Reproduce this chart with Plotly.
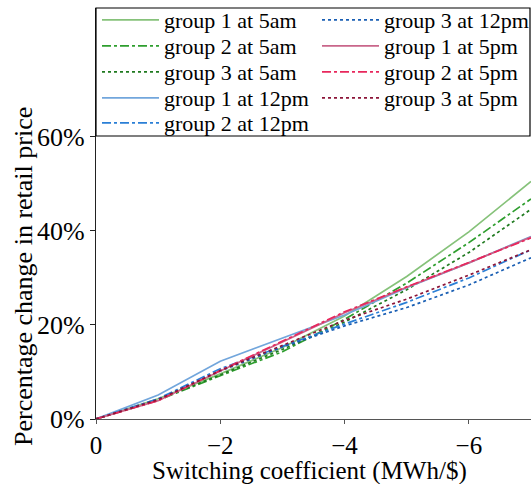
import plotly.graph_objects as go

x_vals = [0, -1, -2, -3, -4, -5, -6, -7]

g1_5am = [0, 4.3, 9.6, 15.2, 21.9, 30.3, 39.8, 50.5]
g2_5am = [0, 4.0, 9.2, 14.3, 21.2, 28.9, 37.5, 46.8]
g3_5am = [0, 4.1, 9.4, 14.8, 20.6, 27.5, 35.4, 44.6]
g1_12pm = [0, 5.1, 12.3, 17.2, 22.1, 27.9, 33.2, 38.8]
g2_12pm = [0, 4.3, 10.7, 15.5, 20.2, 24.8, 30.0, 36.0]
g3_12pm = [0, 4.2, 10.2, 15.3, 19.8, 23.7, 28.5, 34.3]
g1_5pm = [0, 3.9, 10.2, 16.4, 22.6, 28.0, 33.2, 38.7]
g2_5pm = [0, 3.9, 10.3, 16.6, 22.8, 28.1, 33.3, 38.5]
g3_5pm = [0, 4.1, 10.3, 15.7, 21.0, 25.5, 30.6, 36.0]

names = ["group 1 at 5am", "group 2 at 5am", "group 3 at 5am",
         "group 1 at 12pm", "group 2 at 12pm", "group 3 at 12pm",
         "group 1 at 5pm", "group 2 at 5pm", "group 3 at 5pm"]
values = [g1_5am, g2_5am, g3_5am, g1_12pm, g2_12pm, g3_12pm, g1_5pm, g2_5pm, g3_5pm]
colors = ["#86c27a", "#2e9e2e", "#1f7a1f", "#72a6dc", "#2a7fd6", "#1a5fb4",
          "#c9668a", "#e8275c", "#8c1538"]
dashes = ["solid", "dashdot", "dot"] * 3

x_ticks = [0, -2, -4, -6]
x_ticktext = ["0", "\u22122", "\u22124", "\u22126"]
y_ticks = [0, 20, 40, 60]
y_ticktext = ["0%", "20%", "40%", "60%"]
x_title = "Switching coefficient (MWh/$)"
y_title = "Percentage change in retail price"

FONT = "Liberation Serif"
W, H = 531, 484
ML, MR, MT, MB = 96, 0, 8, 65
PW, PH = W - ML - MR, H - MT - MB

fig = go.Figure()
# legend layout: column-major, 5 rows in first column, 4 in second
row_px = [20, 46, 72, 98, 123]
col_px = [97, 317]
legend_defs = {}
for i, (name, vals, color, dash) in enumerate(zip(names, values, colors, dashes)):
    col, row = (0, i) if i < 5 else (1, i - 5)
    key = "legend" if i == 0 else f"legend{i + 1}"
    fig.add_trace(go.Scatter(
        x=x_vals, y=vals, mode="lines", name=name,
        line=dict(color=color, dash=dash, width=1.7),
        legend=key,
    ))
    legend_defs[key] = dict(
        x=(col_px[col] - ML) / PW, y=(H - MB - row_px[row]) / PH,
        xanchor="left", yanchor="middle",
        bgcolor="rgba(255,255,255,0)", borderwidth=0,
        font=dict(size=22, family=FONT, color="black"),
        itemwidth=57,
    )

fig.update_layout(
    width=W, height=H,
    margin=dict(l=ML, r=MR, t=MT, b=MB, autoexpand=False),
    paper_bgcolor="white", plot_bgcolor="white",
    font=dict(family=FONT, color="black", size=26),
    showlegend=True,
    shapes=[dict(type="rect", xref="paper", yref="paper",
                 x0=0.0, x1=(530 - ML) / PW, y0=(H - MB - 136) / PH, y1=1.0,
                 line=dict(color="black", width=1.2), fillcolor="rgba(0,0,0,0)")],
    annotations=[
        dict(text=y_title, xref="paper", yref="paper",
             x=(23 - ML) / PW, y=(H - MB - 277) / PH,
             xanchor="center", yanchor="middle", textangle=-90,
             showarrow=False, font=dict(size=26, family=FONT, color="black")),
        dict(text=x_title, xref="paper", yref="paper",
             x=(309 - ML) / PW, y=(H - MB - 471) / PH,
             xanchor="center", yanchor="middle",
             showarrow=False, font=dict(size=25, family=FONT, color="black")),
    ],
    **legend_defs,
)
fig.update_xaxes(
    range=[0, -7], tickvals=x_ticks, ticktext=x_ticktext, showgrid=False, zeroline=False,
    showline=True, linecolor="#555", linewidth=1.2,
    ticks="outside", ticklen=4, tickcolor="#555",
    tickfont=dict(size=25, family=FONT),
    automargin=False,
)
fig.update_yaxes(
    range=[0, 87.4], tickvals=y_ticks, ticktext=y_ticktext, showgrid=False, zeroline=False,
    showline=True, linecolor="#222", linewidth=1.2,
    ticks="outside", ticklen=5, tickcolor="#222",
    tickfont=dict(size=26, family=FONT),
    automargin=False,
)

fig.write_html("out.html", config={"displayModeBar": False},
               post_script="document.body.style.margin='0';document.body.style.padding='0';")
